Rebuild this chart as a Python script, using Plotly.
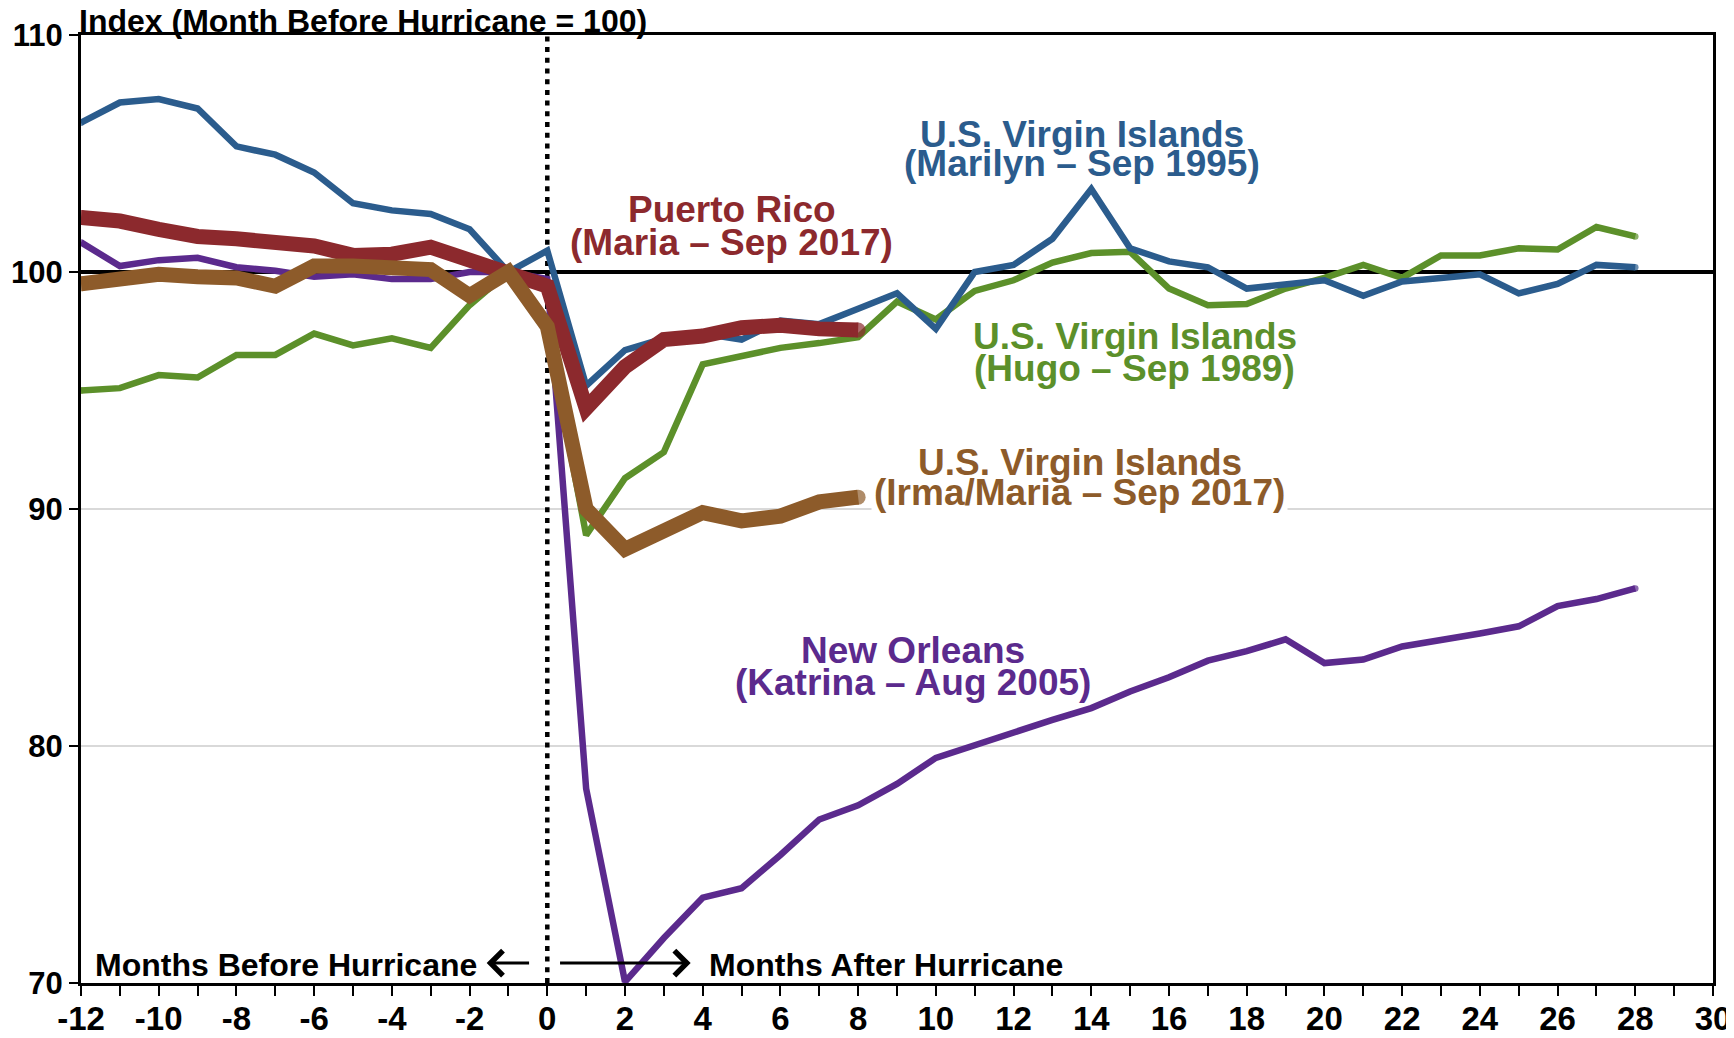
import plotly.graph_objects as go

# ---------------- data ----------------
months_long = list(range(-12, 29))      # -12 .. 28
months_2017 = list(range(-12, 9))       # -12 .. 8

usvi_marilyn_1995 = [106.3, 107.15, 107.3, 106.9, 105.3, 104.95, 104.2, 102.9, 102.6, 102.45, 101.8,
                     100.0, 100.9,
                     95.2, 96.7, 97.2, 97.4, 97.15, 97.95, 97.8, 98.45, 99.1, 97.6,
                     100.0, 100.3, 101.4, 103.5, 101.0, 100.45, 100.2, 99.3, 99.5, 99.65,
                     99.0, 99.6, 99.75, 99.9, 99.1, 99.5, 100.3, 100.2]

usvi_hugo_1989 = [95.0, 95.1, 95.65, 95.55, 96.5, 96.5, 97.4, 96.9, 97.2, 96.8, 98.6,
                  100.0, 97.5,
                  88.9, 91.3, 92.4, 96.1, 96.45, 96.8, 97.0, 97.25, 98.75, 98.0,
                  99.2, 99.65, 100.4, 100.8, 100.85, 99.3, 98.6, 98.65, 99.3, 99.75,
                  100.3, 99.75, 100.7, 100.7, 101.0, 100.95, 101.9, 101.5]

new_orleans_katrina_2005 = [101.25, 100.25, 100.5, 100.6, 100.2, 100.05, 99.8, 99.9, 99.7, 99.7, 100.0,
                            100.0, 99.7,
                            78.2, 70.05, 71.9, 73.6, 74.0, 75.4, 76.9, 77.5, 78.4, 79.5,
                            80.05, 80.6, 81.1, 81.6, 82.3, 82.9, 83.6, 84.0, 84.5, 83.5,
                            83.65, 84.2, 84.45, 84.75, 85.05, 85.9, 86.2, 86.65]

puerto_rico_maria_2017 = [102.3, 102.15, 101.8, 101.5, 101.4, 101.2, 101.1, 100.7, 100.75, 101.05, 100.45,
                          100.0, 99.4,
                          94.25, 96.0, 97.15, 97.3, 97.65, 97.75, 97.6, 97.55]

usvi_irma_maria_2017 = [99.5, 99.75, 99.9, 99.8, 99.75, 99.4, 100.25, 100.25, 100.2, 100.1, 99.0,
                        100.0, 97.7,
                        90.0, 88.3, 89.0, 89.85, 89.5, 89.7, 90.3, 90.5]

x_tick_values = list(range(-12, 31, 2))
x_tick_labels = [str(v) for v in x_tick_values]
y_tick_values = [70, 80, 90, 100, 110]
y_tick_labels = ["70", "80", "90", "100", "110"]

# ---------------- styling ----------------
FONT = "Liberation Sans, Arial, Helvetica, sans-serif"
C_BLUE = "#2B5C8D"
C_GREEN = "#5C902A"
C_PURPLE = "#5B2A8D"
C_RED = "#8C292D"
C_BROWN = "#8D5B2A"

fig = go.Figure()


def add_series(x, y, color, width):
    n = len(x)
    sizes = [width if i in (0, n - 1) else 0 for i in range(n)]
    fig.add_trace(go.Scatter(
        x=x, y=y, mode="lines+markers",
        line=dict(color=color, width=width),
        marker=dict(color=color, size=sizes, line=dict(width=0)),
        showlegend=False, hoverinfo="x+y"))


# drawing order (bottom -> top)
add_series(months_long, usvi_hugo_1989, C_GREEN, 6.5)
add_series(months_long, new_orleans_katrina_2005, C_PURPLE, 6.5)
add_series(months_long, usvi_marilyn_1995, C_BLUE, 6.5)
add_series(months_2017, puerto_rico_maria_2017, C_RED, 15)
add_series(months_2017, usvi_irma_maria_2017, C_BROWN, 15)

# reference lines (between gridlines and traces)
fig.add_shape(type="line", xref="x", yref="y", x0=-12, x1=30, y0=100, y1=100,
              line=dict(color="black", width=4), layer="between")
fig.add_shape(type="line", xref="x", yref="y", x0=0, x1=0, y0=70, y1=110,
              line=dict(color="black", width=4.5, dash="5px,5.7px"), layer="between")


def label(text, x, y, color, size=37, bg=None):
    fig.add_annotation(x=x, y=y, xref="x", yref="y", text=text, showarrow=False,
                       xanchor="center", yanchor="middle",
                       font=dict(family=FONT, size=size, color=color, weight="bold"),
                       bgcolor=bg, borderpad=2)


label("U.S. Virgin Islands", 13.77, 105.82, C_BLUE)
label("(Marilyn \u2013 Sep 1995)", 13.77, 104.56, C_BLUE)
label("Puerto Rico", 4.75, 102.62, C_RED)
label("(Maria \u2013 Sep 2017)", 4.75, 101.26, C_RED)
label("U.S. Virgin Islands", 15.12, 97.29, C_GREEN)
label("(Hugo \u2013 Sep 1989)", 15.12, 95.94, C_GREEN)
# second line first so its white background sits under the first line
label("(Irma/Maria \u2013 Sep 2017)", 13.7, 90.70, C_BROWN, bg="white")
label("U.S. Virgin Islands", 13.7, 91.96, C_BROWN)
label("New Orleans", 9.4, 84.04, C_PURPLE)
label("(Katrina \u2013 Aug 2005)", 9.4, 82.69, C_PURPLE)

# before/after texts and arrows
fig.add_annotation(x=-1.745, y=70.74, xref="x", yref="y", text="Months Before Hurricane",
                   showarrow=False, xanchor="right", yanchor="middle",
                   font=dict(family=FONT, size=32, color="black", weight="bold"))
fig.add_annotation(x=4.12, y=70.74, xref="x", yref="y", text="Months After Hurricane",
                   showarrow=False, xanchor="left", yanchor="middle",
                   font=dict(family=FONT, size=32, color="black", weight="bold"))
fig.add_annotation(x=-1.56, y=70.84, ax=-0.43, ay=70.84, xref="x", yref="y", axref="x", ayref="y",
                   text="", showarrow=True, arrowhead=4, arrowsize=1.6, arrowwidth=3, arrowcolor="black")
fig.add_annotation(x=3.69, y=70.84, ax=0.29, ay=70.84, xref="x", yref="y", axref="x", ayref="y",
                   text="", showarrow=True, arrowhead=4, arrowsize=1.6, arrowwidth=3, arrowcolor="black")

# y-axis title at top-left
fig.add_annotation(x=-0.00245, y=1.015, xref="paper", yref="paper",
                   text="Index (Month Before Hurricane = 100)", showarrow=False,
                   xanchor="left", yanchor="middle",
                   font=dict(family=FONT, size=32, color="black", weight="bold"))

fig.update_xaxes(range=[-12, 30], tickmode="array", tickvals=x_tick_values, ticktext=x_tick_labels,
                 showgrid=False, zeroline=False, automargin=False,
                 showline=True, linecolor="black", linewidth=3, mirror=True,
                 ticks="outside", ticklen=10, tickwidth=2, tickcolor="black",
                 minor=dict(dtick=1, tick0=0, ticks="outside", ticklen=10, tickwidth=2, tickcolor="black"),
                 tickfont=dict(family=FONT, size=33, color="black", weight="bold"),
                 ticklabelstandoff=-6)
fig.update_yaxes(range=[70, 110], tickmode="array", tickvals=y_tick_values, ticktext=y_tick_labels,
                 showgrid=True, gridcolor="#D9D9D9", gridwidth=1.5, zeroline=False, automargin=False,
                 showline=True, linecolor="black", linewidth=3, mirror=True,
                 ticks="outside", ticklen=9, tickwidth=2, tickcolor="black",
                 tickfont=dict(family=FONT, size=31, color="black", weight="bold"),
                 ticklabelstandoff=0)

# the page body has an 8px margin, so the figure is 8px smaller and the left/top margins shifted
fig.update_layout(width=1726, height=1030,
                  margin=dict(l=73, r=21, t=27, b=55, pad=0, autoexpand=False),
                  plot_bgcolor="white", paper_bgcolor="white",
                  showlegend=False)

fig.write_html("out.html")
